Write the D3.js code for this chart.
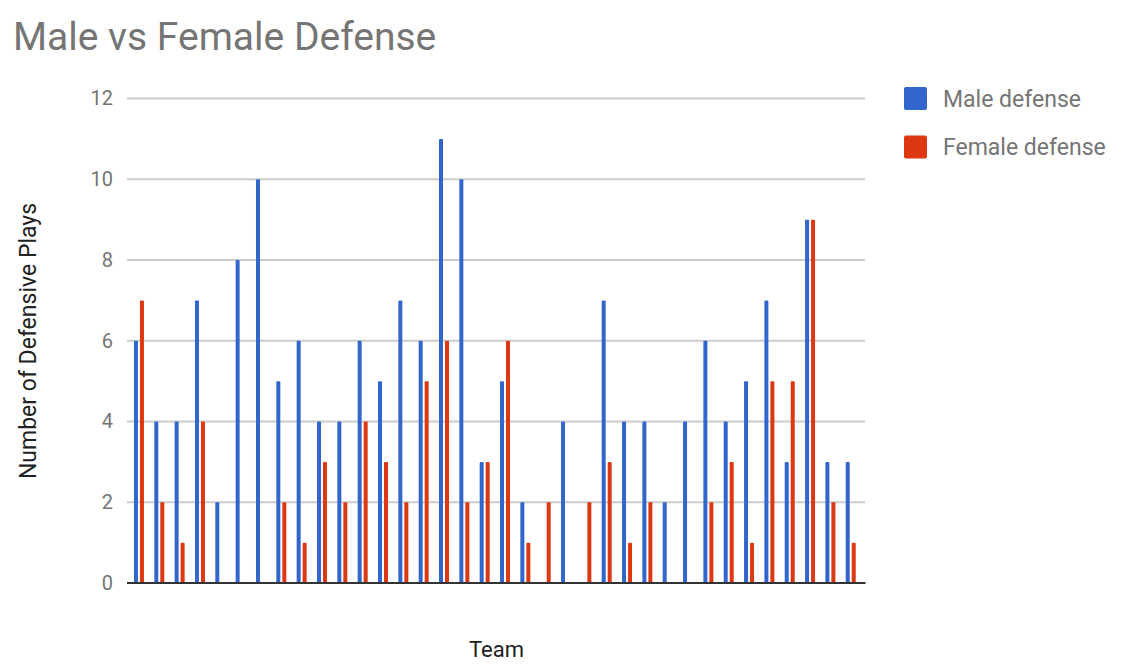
<!DOCTYPE html>
<html>
<head>
<meta charset="utf-8">
<script src="https://cdn.jsdelivr.net/npm/d3@7"></script>
<style>
  html, body { margin: 0; padding: 0; background: #fff; }
  svg { display: block; font-family: Roboto, "Noto Sans", sans-serif; }
</style>
</head>
<body>
<svg id="chart" width="1132" height="670"></svg>
<script>
const teams = d3.range(1, 37).map(i => "Team " + i);
const maleDefense   = [6,4,4,7,2,8,10,5,6,4,4,6,5,7,6,11,10,3,5,2,0,4,0,7,4,4,2,4,6,4,5,7,3,9,3,3];
const femaleDefense = [7,2,1,4,0,0,0,2,1,3,2,4,3,2,5,6,2,3,6,1,2,0,2,3,1,2,0,0,2,3,1,5,5,9,2,1];
const seriesNames = ["Male defense", "Female defense"];
const seriesColors = ["#3366cc", "#dc3912"];
const yTicks = [0, 2, 4, 6, 8, 10, 12];

const svg = d3.select("#chart");

const x = d3.scaleBand().domain(teams).range([128.8, 860.9]).paddingInner(0.508).paddingOuter(0.254);
const xs = d3.scaleBand().domain(seriesNames).range([0, x.bandwidth()]).paddingInner(1/3);
const y = d3.scaleLinear().domain([0, 12]).range([583, 98.5]);

// gridlines
const grid = svg.append("g");
grid.selectAll("line").data(yTicks.filter(d => d !== 0)).join("line")
  .attr("x1", 127).attr("x2", 865)
  .attr("y1", d => y(d)).attr("y2", d => y(d))
  .attr("stroke", "#cccccc").attr("stroke-width", 2);

// y axis labels
const yAxis = d3.axisLeft(y).tickValues(yTicks).tickSize(0).tickPadding(14).tickFormat(d3.format("d"));
const ya = svg.append("g").attr("transform", "translate(127,0)").call(yAxis);
ya.select(".domain").remove();
ya.selectAll("text").attr("font-size", 20).attr("fill", "#757575")
  .attr("font-family", "Roboto, sans-serif");

// bars
const data = teams.map((t, i) => ({team: t, values: [maleDefense[i], femaleDefense[i]]}));
const groups = svg.append("g").selectAll("g").data(data).join("g")
  .attr("transform", d => `translate(${x(d.team)},0)`);
groups.selectAll("rect").data(d => d.values.map((v, j) => ({v, s: seriesNames[j], c: seriesColors[j]})))
  .join("rect")
  .filter(d => d.v > 0)
  .attr("x", d => xs(d.s))
  .attr("width", xs.bandwidth())
  .attr("y", d => y(d.v))
  .attr("height", d => y(0) - y(d.v))
  .attr("rx", 1)
  .attr("fill", d => d.c);

// baseline
svg.append("line").attr("x1", 127).attr("x2", 865.5)
  .attr("y1", y(0)).attr("y2", y(0))
  .attr("stroke", "#333333").attr("stroke-width", 2);

// title
svg.append("text").attr("x", 13).attr("y", 50)
  .attr("font-size", 39).attr("fill", "#757575")
  .text("Male vs Female Defense");

// axis titles
svg.append("text").attr("x", 496.5).attr("y", 657)
  .attr("text-anchor", "middle").attr("font-size", 22).attr("fill", "#222222")
  .text("Team");
svg.append("text")
  .attr("transform", `translate(36,341) rotate(-90)`)
  .attr("text-anchor", "middle").attr("font-size", 23).attr("fill", "#222222")
  .text("Number of Defensive Plays");

// legend
const leg = svg.append("g").selectAll("g").data(seriesNames).join("g")
  .attr("transform", (d, i) => `translate(904,${87 + i * 48.5})`);
leg.append("rect").attr("width", 23).attr("height", 23).attr("rx", 2)
  .attr("fill", (d, i) => seriesColors[i]);
leg.append("text").attr("x", 39).attr("y", 19.5)
  .attr("font-size", 23).attr("fill", "#757575")
  .text(d => d);
</script>
</body>
</html>
